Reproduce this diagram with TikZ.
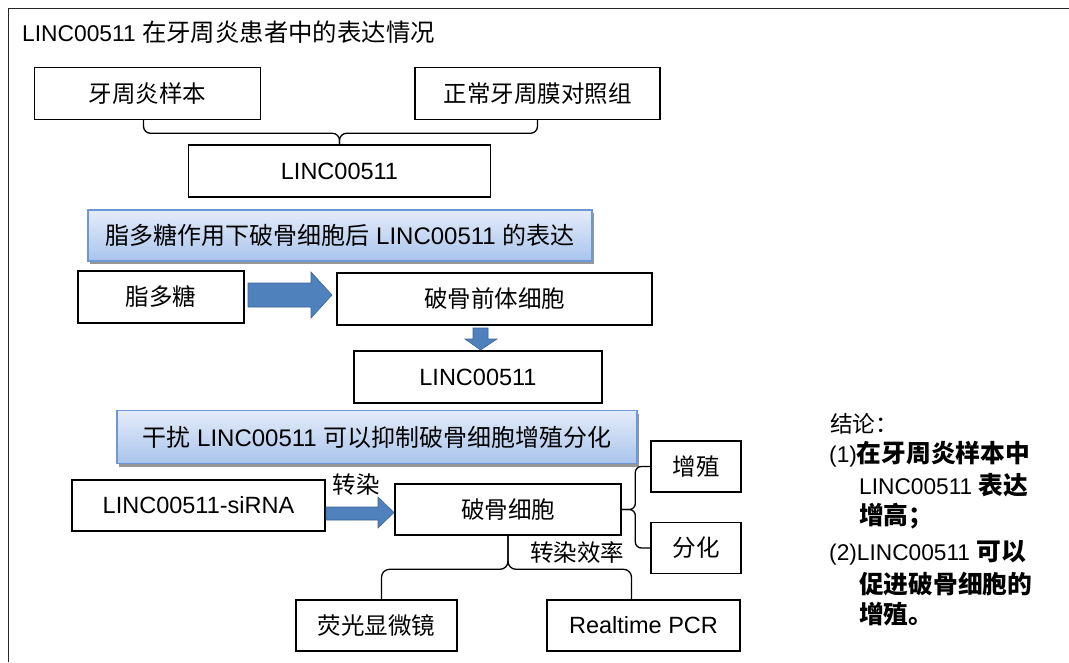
\documentclass[tikz,border=0pt]{standalone}
\usepackage{fontspec}
\setmainfont{Liberation Sans}
\newfontfamily\zh{Noto Sans CJK SC}
\newfontfamily\zht[Scale=1.07]{Noto Sans CJK SC}
\newfontfamily\zhb[Scale=1.09]{Noto Sans CJK SC}
\usetikzlibrary{shadows,calc}
\definecolor{bannerTop}{HTML}{E4ECF9}
\definecolor{bannerBot}{HTML}{A9C4EC}
\definecolor{bannerLine}{HTML}{6F97D3}
\definecolor{arrowFill}{HTML}{4F81BD}
\definecolor{arrowLine}{HTML}{3C6496}
\begin{document}
\begin{tikzpicture}[x=1pt,y=-1pt,
  box/.style={draw=black,line width=1.4pt,inner sep=0pt,font=\fontsize{23.5}{27}\selectfont},
  banner/.style={draw=bannerLine,line width=1.4pt,top color=bannerTop,bottom color=bannerBot,
     inner sep=0pt,font=\fontsize{24}{28}\selectfont,
     drop shadow={shadow xshift=2pt,shadow yshift=-3pt,fill=black!45,opacity=.9}},
  blockarrow/.style={fill=arrowFill,draw=arrowLine,line width=0.6pt},
  brace/.style={draw=black,line width=1.3pt},
  lbl/.style={inner sep=0pt,font=\fontsize{23.5}{27}\selectfont},
  concl/.style={anchor=west,inner sep=0pt,font=\fontsize{22.7}{26}\selectfont}]
\useasboundingbox (0,0) rectangle (1069,662);
\fill[white] (0,0) rectangle (1069,662);
% frame
\draw[line width=1pt,black!85] (8,662) -- (8,8) -- (1069,8);
% title
\node[anchor=west,inner sep=0pt,font=\fontsize{22.8}{26}\selectfont] (title) at (22,32) {LINC00511 {\zht 在牙周炎患者中的表达情况}};
% section 1
\node[box,minimum width=226pt,minimum height=52pt] (a1) at (147.5,93.5) {\zh 牙周炎样本};
\node[box,minimum width=245pt,minimum height=52pt] (a2) at (537.5,93.5) {\zh 正常牙周膜对照组};
\node[box,minimum width=302pt,minimum height=52pt] (a3) at (339.5,171) {LINC00511};
\draw[brace,rounded corners=7pt] ([xshift=-4pt]a1.south) |- ([yshift=11pt]a3.north) -- (a3.north);
\draw[brace,rounded corners=7pt] (a2.south) |- ([yshift=11pt]a3.north) -- (a3.north);
% banner 1
\node[banner,minimum width=504pt,minimum height=51pt] (ban1) at (340,235.5) {{\zh 脂多糖作用下破骨细胞后} LINC00511 {\zh 的表达}};
% section 2
\node[box,minimum width=166pt,minimum height=52pt] (b1) at (161,297) {\zh 脂多糖};
\node[box,minimum width=315pt,minimum height=52pt] (b2) at (494.5,299) {\zh 破骨前体细胞};
\node[box,minimum width=248pt,minimum height=52pt] (b3) at (478,377) {LINC00511};
\draw[blockarrow] (248,283) -- (311,283) -- (311,272) -- (332,295) -- (311,318) -- (311,307) -- (248,307) -- cycle;
\draw[blockarrow] (473,328) -- (488,328) -- (488,339) -- (497,339) -- (480.5,350) -- (465,339) -- (473,339) -- cycle;
% banner 2
\node[banner,minimum width=520pt,minimum height=53pt] (ban2) at (377,437) {{\zh 干扰} LINC00511 {\zh 可以抑制破骨细胞增殖分化}};
% section 3
\node[box,minimum width=253pt,minimum height=51pt] (c1) at (198.5,505.5) {LINC00511-siRNA};
\node[box,minimum width=226pt,minimum height=51pt] (c2) at (508,509.5) {\zh 破骨细胞};
\node[box,minimum width=90pt,minimum height=51pt] (p1) at (696,466.5) {\zh 增殖};
\node[box,minimum width=90pt,minimum height=51pt] (p2) at (696,548) {\zh 分化};
\node[box,minimum width=161pt,minimum height=51pt] (d1) at (376.5,625.5) {\zh 荧光显微镜};
\node[box,minimum width=193pt,minimum height=51pt] (d2) at (643.5,625.5) {Realtime PCR};
\draw[blockarrow] (326,507) -- (378,507) -- (378,497) -- (394,512.5) -- (378,528) -- (378,520) -- (326,520) -- cycle;
\node[lbl] (tl) at (356,485) {\zh 转染};
\draw[brace,rounded corners=6pt] (c2.east) -| ([xshift=-15pt]p1.west) -- (p1.west);
\draw[brace,rounded corners=6pt] (c2.east) -| ([xshift=-15pt]p2.west) -- (p2.west);
\draw[brace,rounded corners=8pt] (c2.south) |- ([xshift=5pt,yshift=30pt]d1.north) -- ([xshift=5pt]d1.north);
\draw[brace,rounded corners=8pt] (c2.south) |- ([xshift=-12pt,yshift=30pt]d2.north) -- ([xshift=-12pt]d2.north);
\node[lbl] (te) at (577,553) {\zh 转染效率};
% conclusion
\node[concl] (k0) at (830,424) {\zh 结论：};
\node[concl] (k1) at (829,454) {(1){\zhb\bfseries 在牙周炎样本中}};
\node[concl] (k2) at (859,485) {LINC00511 {\zhb\bfseries 表达}};
\node[concl] (k3) at (859,516) {\zhb\bfseries 增高；};
\node[concl] (k4) at (829,553) {(2)LINC00511 {\zhb\bfseries 可以}};
\node[concl] (k5) at (859,584) {\zhb\bfseries 促进破骨细胞的};
\node[concl] (k6) at (859,614) {\zhb\bfseries 增殖。};
\end{tikzpicture}
\end{document}
